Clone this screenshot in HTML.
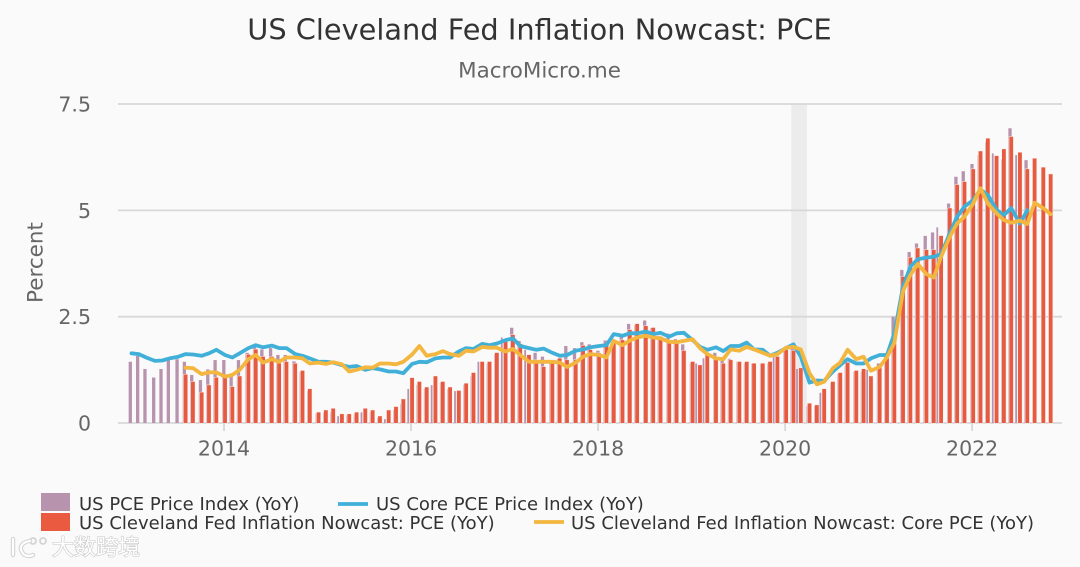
<!DOCTYPE html>
<html lang="en">
<head>
<meta charset="utf-8">
<title>US Cleveland Fed Inflation Nowcast: PCE</title>
<style>
  html, body { margin: 0; padding: 0; background: #fafafa; }
  svg { display: block; filter: blur(0.35px); }
  text { font-family: "DejaVu Sans", "Liberation Sans", sans-serif; }
  .logo { font-family: "Liberation Sans", "Noto Sans CJK SC", sans-serif; }
</style>
</head>
<body>
<svg id="chart" width="1080" height="567" viewBox="0 0 1080 567" xmlns="http://www.w3.org/2000/svg">
  <rect x="0" y="0" width="1080" height="567" fill="#fafafa"/>
  <text x="539.5" y="39.5" text-anchor="middle" font-size="28.8" fill="#333333">US Cleveland Fed Inflation Nowcast: PCE</text>
  <text x="539.5" y="77.5" text-anchor="middle" font-size="21.4" fill="#666666">MacroMicro.me</text>
  <text transform="translate(42.5,262.5) rotate(-90)" text-anchor="middle" font-size="21.5" fill="#666666">Percent</text>
  <g id="band-layer"></g>
  <g id="grid-layer"></g>
  <g id="purple-layer"></g>
  <g id="red-layer"></g>
  <path id="blue-line" fill="none" stroke="#41b0d8" stroke-width="3.8" stroke-linejoin="round" stroke-linecap="round"/>
  <path id="yellow-line" fill="none" stroke="#f3b63f" stroke-width="3.8" stroke-linejoin="round" stroke-linecap="round"/>
  <g id="axis-layer"></g>

  <g font-size="18" fill="#333333">
    <g>
      <rect x="41" y="493" width="29" height="18" fill="#b893ae"/>
      <text x="79" y="510">US PCE Price Index (YoY)</text>
    </g>
    <g>
      <line x1="338" y1="504" x2="368" y2="504" stroke="#41b0d8" stroke-width="3.8"/>
      <text x="376" y="510">US Core PCE Price Index (YoY)</text>
    </g>
    <g>
      <rect x="41" y="513" width="29" height="18" fill="#ea5a40"/>
      <text x="79" y="529">US Cleveland Fed Inflation Nowcast: PCE (YoY)</text>
    </g>
    <g>
      <line x1="534" y1="522" x2="564" y2="522" stroke="#f3b63f" stroke-width="3.8"/>
      <text x="571" y="529">US Cleveland Fed Inflation Nowcast: Core PCE (YoY)</text>
    </g>
  </g>

  <g>
    <g fill="none" stroke="#d4d4d4" stroke-width="4.4" stroke-linecap="round">
      <path d="M13 539 L13 555"/>
      <path d="M30 541 C22 542 19 547 22 552 C24 556 29 557 33 555"/>
      <circle cx="33" cy="541" r="3" stroke-width="1.8"/>
      <circle cx="43" cy="541" r="3" stroke-width="1.8"/>
    </g>
    <g fill="none" stroke="#ffffff" stroke-width="2.2" stroke-linecap="round">
      <path d="M13 539 L13 555"/>
      <path d="M30 541 C22 542 19 547 22 552 C24 556 29 557 33 555"/>
    </g>
    <text class="logo" x="52" y="555" font-size="22" fill="#ffffff" stroke="#c4c4c4" stroke-width="1.1" paint-order="stroke">大数跨境</text>
  </g>
</svg>

<script>
// Months are indexed from Jan 2013 (0) to Nov 2022 (118).
const yTicks = [0, 2.5, 5, 7.5];
const yTickLabels = ['0', '2.5', '5', '7.5'];
const xTickMonths = [12, 36, 60, 84, 108];
const xTickLabels = ['2014', '2016', '2018', '2020', '2022'];
const recessionBand = [84.8, 86.8];
const pcePriceIndex = [
  1.44,1.58,1.27,1.07,1.27,1.47,1.50,1.44,1.13,1.01,1.26,1.48,
  1.48,1.09,1.48,1.65,1.82,1.73,1.76,1.60,1.60,1.45,1.20,0.75,
  0.22,0.25,0.25,0.16,0.18,0.20,0.25,0.25,0.12,0.09,0.30,0.45,
  0.80,0.90,0.80,0.89,0.95,0.80,0.75,0.90,1.10,1.44,1.40,1.62,
  2.01,2.24,1.93,1.72,1.65,1.56,1.45,1.50,1.81,1.76,1.90,1.85,
  1.70,1.94,1.90,2.09,2.33,2.30,2.41,2.23,2.05,2.10,1.97,1.85,
  1.40,1.40,1.52,1.65,1.46,1.51,1.44,1.40,1.40,1.40,1.40,1.56,
  1.70,1.80,1.27,0.40,0.40,0.71,0.95,1.15,1.35,1.20,1.20,1.25,
  1.40,1.60,2.50,3.60,4.02,4.22,4.40,4.48,4.60,5.16,5.79,5.92,
  6.09,6.30,6.60,6.34,6.20,6.93,6.30,6.18
];
// Months whose PCE bar shows as a thin sliver beside the nowcast bar.
const sliverMonths = [27,30,33,36,39,42,45,48,51,73,74,83,86,89,95,104,111,114];
const nowcastPce = [
  null,null,null,null,null,null,null,1.14,0.97,0.72,0.89,1.07,
  1.07,0.85,1.10,1.61,1.73,1.56,1.56,1.40,1.44,1.40,1.23,0.80,
  0.25,0.30,0.34,0.21,0.21,0.25,0.34,0.30,0.16,0.30,0.38,0.56,
  1.06,0.97,0.84,1.10,0.97,0.84,0.76,0.93,1.18,1.44,1.44,1.65,
  1.91,2.07,1.86,1.60,1.48,1.32,1.48,1.52,1.48,1.48,1.82,1.72,
  1.64,1.83,1.91,1.95,2.19,2.33,2.28,2.24,2.03,1.95,1.87,1.70,
  1.44,1.36,1.60,1.48,1.40,1.48,1.44,1.44,1.40,1.40,1.44,1.56,
  1.72,1.70,1.29,0.46,0.42,0.80,0.97,1.18,1.42,1.23,1.27,1.10,
  1.32,1.52,1.87,3.44,3.89,4.11,4.07,4.07,4.40,5.05,5.60,5.67,
  5.97,6.39,6.69,6.28,6.44,6.73,6.36,5.97,6.22,6.01,5.85
];
const corePce = [
  1.64,1.62,1.54,1.46,1.47,1.52,1.56,1.62,1.61,1.58,1.64,1.72,
  1.60,1.54,1.64,1.76,1.83,1.78,1.82,1.76,1.76,1.62,1.58,1.52,
  1.44,1.44,1.42,1.36,1.32,1.34,1.25,1.29,1.26,1.21,1.21,1.17,
  1.39,1.44,1.43,1.52,1.54,1.54,1.68,1.76,1.74,1.86,1.83,1.87,
  1.95,1.99,1.81,1.76,1.72,1.75,1.65,1.58,1.60,1.70,1.73,1.78,
  1.81,1.83,2.09,2.05,2.11,2.11,2.15,2.09,2.12,2.03,2.11,2.12,
  1.95,1.79,1.72,1.78,1.69,1.81,1.81,1.89,1.73,1.72,1.58,1.65,
  1.76,1.85,1.56,0.95,1.00,0.99,1.21,1.36,1.50,1.40,1.40,1.52,
  1.60,1.60,2.10,3.20,3.68,3.85,3.89,3.91,3.97,4.46,4.85,5.09,
  5.24,5.49,5.36,5.01,4.89,5.05,4.69,5.00
];
const nowcastCorePce = [
  null,null,null,null,null,null,null,1.30,1.29,1.15,1.19,1.19,
  1.09,1.13,1.25,1.50,1.60,1.42,1.50,1.44,1.54,1.54,1.52,1.40,
  1.42,1.39,1.43,1.38,1.21,1.25,1.31,1.30,1.40,1.40,1.38,1.44,
  1.61,1.81,1.58,1.62,1.69,1.62,1.58,1.70,1.68,1.79,1.77,1.77,
  1.68,1.74,1.60,1.44,1.44,1.44,1.44,1.42,1.32,1.42,1.56,1.62,
  1.60,1.54,1.93,1.83,1.94,2.01,2.05,2.01,1.99,1.91,1.90,1.93,
  1.97,1.76,1.62,1.52,1.50,1.73,1.70,1.79,1.73,1.65,1.58,1.62,
  1.77,1.79,1.73,1.17,0.91,0.97,1.29,1.42,1.72,1.50,1.56,1.23,
  1.32,1.55,1.88,3.10,3.48,3.74,3.50,3.42,3.91,4.38,4.69,4.85,
  5.16,5.52,5.16,4.93,4.77,4.71,4.76,4.68,5.18,5.05,4.91
];

const SVG_NS = 'http://www.w3.org/2000/svg';
const yScale = v => 423 - v * 42.53;
const timeScale = m => 130.5 + m * 7.793;
// Bars snap to the renderer's uneven monthly spacing, which repeats each quarter.
const barScale = m => 131.5 + Math.floor(m / 3) * 23.38 + (m % 3) * 7.33;

function make(tag, attrs) {
  const el = document.createElementNS(SVG_NS, tag);
  for (const k in attrs) el.setAttribute(k, attrs[k]);
  return el;
}

const bandLayer = document.getElementById('band-layer');
const band = make('rect', {
  x: timeScale(recessionBand[0]), y: yScale(7.5),
  width: timeScale(recessionBand[1]) - timeScale(recessionBand[0]),
  height: yScale(0) - yScale(7.5), fill: '#ececec'
});


bandLayer.appendChild(band);

const gridLayer = document.getElementById('grid-layer');
yTicks.forEach((t, i) => {
  const line = make('line', {
    x1: 118, x2: 1062, y1: yScale(t), y2: yScale(t),
    stroke: '#d8d8d8', 'stroke-width': 1.8
  });
  
  
  gridLayer.appendChild(line);
});

const purpleLayer = document.getElementById('purple-layer');
pcePriceIndex.forEach((v, m) => {
  const sliver = sliverMonths.includes(m);
  const w = sliver ? 1.8 : 3.3;
  const cx = barScale(m) + (sliver ? -3.8 : -1.2);
  const bar = make('rect', {
    x: cx - w / 2, y: yScale(v), width: w, height: yScale(0) - yScale(v), fill: '#b893ae'
  });
  
  
  purpleLayer.appendChild(bar);
});

const redLayer = document.getElementById('red-layer');
nowcastPce.forEach((v, m) => {
  if (v === null) return;
  const w = 3.8;
  const bar = make('rect', {
    x: barScale(m) - w / 2, y: yScale(v), width: w, height: yScale(0) - yScale(v),
    fill: '#e65a40', stroke: '#fbeeea', 'stroke-width': 1, 'paint-order': 'stroke'
  });
  
  
  redLayer.appendChild(bar);
});

function linePath(values) {
  let d = '';
  values.forEach((v, m) => {
    if (v === null) return;
    d += (d ? 'L' : 'M') + barScale(m).toFixed(1) + ' ' + yScale(v).toFixed(1);
  });
  return d;
}
document.getElementById('blue-line').setAttribute('d', linePath(corePce));
document.getElementById('yellow-line').setAttribute('d', linePath(nowcastCorePce));

const axisLayer = document.getElementById('axis-layer');
yTicks.forEach((t, i) => {
  const label = make('text', {
    x: 91, y: yScale(t) + 7.5, 'text-anchor': 'end', 'font-size': 20.5, fill: '#666666'
  });
  
  
  label.textContent = yTickLabels[i];
  axisLayer.appendChild(label);
});
xTickMonths.forEach((m, i) => {
  const tick = make('line', {
    x1: timeScale(m), x2: timeScale(m), y1: yScale(0), y2: yScale(0) + 8,
    stroke: '#d8d8dc', 'stroke-width': 1.8
  });
  
  
  axisLayer.appendChild(tick);
  const label = make('text', {
    x: timeScale(m), y: 455.5, 'text-anchor': 'middle', 'font-size': 20.5, fill: '#666666'
  });
  
  
  label.textContent = xTickLabels[i];
  axisLayer.appendChild(label);
});
</script>
</body>
</html>
